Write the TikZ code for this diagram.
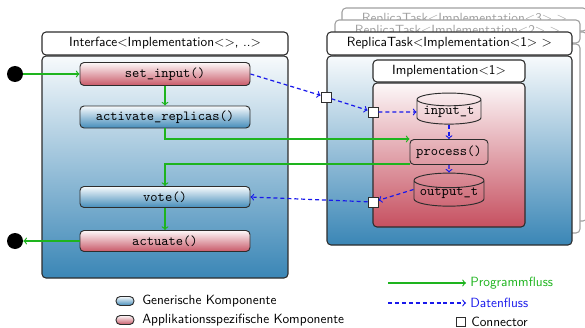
\documentclass[tikz,border=0pt]{standalone}
\usepackage{fontspec}
\usetikzlibrary{shapes.geometric}

\newdimen\pxu \pxu=0.75pt

\definecolor{frame}{RGB}{45,45,45}
\definecolor{genblue}{RGB}{58,134,182}
\definecolor{appred}{RGB}{198,80,96}
\definecolor{progc}{RGB}{30,180,30}
\definecolor{datac}{RGB}{25,25,235}
\definecolor{ghost}{RGB}{160,160,160}

\tikzset{
  hdr/.style={draw=frame, fill=white, rounded corners=3pt, line width=0.8pt,
    inner sep=0pt, font=\sffamily\fontsize{10}{12}\selectfont},
  genbody/.style={draw=frame, rounded corners=3pt, line width=0.8pt,
    top color=genblue!4, bottom color=genblue},
  appbody/.style={draw=frame, rounded corners=3pt, line width=0.8pt,
    top color=appred!4, bottom color=appred},
  ghosthdr/.style={hdr, draw=ghost, text=ghost},
  ghostbody/.style={draw=ghost, fill=white, rounded corners=3pt, line width=0.8pt},
  fnbox/.style={draw=frame, rounded corners=3pt, line width=0.7pt, inner sep=0pt,
    minimum width=170*\pxu, font=\ttfamily\fontsize{10.4}{12}\selectfont},
  genfn/.style={fnbox, top color=genblue!4, bottom color=genblue!95},
  appfn/.style={fnbox, top color=appred!4, bottom color=appred!95},
  plainfn/.style={draw=frame, rounded corners=3pt, line width=0.7pt, inner sep=0pt,
    font=\ttfamily\fontsize{10.4}{12}\selectfont},
  store/.style={cylinder, shape border rotate=90, draw=frame, line width=0.7pt,
    aspect=0.25, inner sep=0pt, font=\ttfamily\fontsize{10.4}{12}\selectfont},
  conn/.style={draw=frame, fill=white, line width=0.7pt, inner sep=0pt,
    minimum size=10*\pxu},
  port/.style={circle, fill=black, inner sep=0pt, minimum size=16*\pxu},
  prog/.style={draw=progc, line width=0.9pt, ->},
  data/.style={draw=datac, line width=0.9pt, dash pattern=on 3pt off 2.2pt, ->},
  legtext/.style={anchor=west, inner sep=0pt, font=\sffamily\fontsize{10}{12}\selectfont},
}

\begin{document}
\begin{tikzpicture}[x=0.75pt, y=-0.75pt]
\useasboundingbox (0,0) rectangle (585,328);

% ---- stacked replica tasks behind the first one ----
\node[ghostbody, minimum width=245*\pxu, minimum height=189*\pxu] (r3body) at (464.5,126.5) {};
\node[ghosthdr, minimum width=245*\pxu, minimum height=23*\pxu] (r3hdr) at (464.5,19.5)
  {ReplicaTask<Implementation<3> >};
\node[ghostbody, minimum width=245*\pxu, minimum height=189*\pxu] (r2body) at (457.5,138.5) {};
\node[ghosthdr, minimum width=245*\pxu, minimum height=23*\pxu] (r2hdr) at (457.5,31.5)
  {ReplicaTask<Implementation<2> >};

% ---- interface component ----
\node[hdr, minimum width=246*\pxu, minimum height=23*\pxu] (ifhdr) at (165,43.5)
  {Interface<Implementation<>, ..>};
\node[genbody, minimum width=246*\pxu, minimum height=222*\pxu] (ifbody) at (165,167) {};

\node[appfn, minimum height=23*\pxu] (setinput) at (165,74) {set\_input()};
\node[genfn, minimum height=22*\pxu] (activate) at (165,117) {activate\_replicas()};
\node[genfn, minimum height=21*\pxu] (vote) at (165,197) {vote()};
\node[appfn, minimum height=21*\pxu] (actuate) at (165,241) {actuate()};

\node[port] (inport) at (15,74) {};
\node[port] (outport) at (15,241) {};

% ---- replica task 1 ----
\node[hdr, minimum width=245*\pxu, minimum height=23*\pxu] (rthdr) at (449.5,43.5)
  {ReplicaTask<Implementation<1> >};
\node[genbody, minimum width=245*\pxu, minimum height=189*\pxu] (rtbody) at (449.5,150.5) {};

\node[hdr, minimum width=152*\pxu, minimum height=22*\pxu] (imhdr) at (449,71)
  {Implementation<1>};
\node[appbody, minimum width=152*\pxu, minimum height=144*\pxu] (imbody) at (449,155) {};

\node[store, minimum width=64*\pxu, minimum height=30*\pxu] (inputt) at (449,112) {input\_t};
\node[plainfn, minimum width=78*\pxu, minimum height=25*\pxu] (process) at (449,152) {process()};
\node[store, minimum width=70*\pxu, minimum height=33*\pxu] (outputt) at (449,193.5) {output\_t};

\node[conn] (c1) at (326,97) {};
\node[conn] (c2) at (373,112) {};
\node[conn] (c3) at (373,202) {};

% ---- program flow ----
\draw[prog] (inport) -- (setinput.west);
\draw[prog] (setinput.south) -- (activate.north);
\draw[prog] (activate.south) |- ([yshift=9.75pt]process.west);
\draw[prog] ([yshift=-9pt]process.west) -| (vote.north);
\draw[prog] (vote.south) -- (actuate.north);
\draw[prog] (actuate.west) -- (outport);

% ---- data flow ----
\draw[data] (setinput.east) -- (c1);
\draw[data] (c1) -- (c2);
\draw[data] (c2) -- (inputt.west);
\draw[data] (inputt.south) -- (process.north);
\draw[data] (process.south) -- (outputt.north);
\draw[data] ([yshift=3pt]outputt.west) -- (c3);
\draw[data] (c3) -- (vote.east);

% ---- legend ----
\node[genfn, minimum width=18*\pxu, minimum height=9*\pxu, rounded corners=3.2pt] (lgen) at (125,301) {};
\node[legtext] (lgentext) at (142,301) {Generische Komponente};
\node[appfn, minimum width=18*\pxu, minimum height=9*\pxu, rounded corners=3.2pt] (lapp) at (125,320) {};
\node[legtext] (lapptext) at (142,320) {Applikationsspezifische Komponente};

\coordinate (lp1) at (388,283);
\coordinate (lp2) at (466,283);
\draw[prog] (lp1) -- (lp2);
\node[legtext, text=progc] (lprog) at (470,283) {Programmfluss};
\coordinate (ld1) at (388,303);
\coordinate (ld2) at (466,303);
\draw[data] (ld1) -- (ld2);
\node[legtext, text=datac] (ldata) at (470,303) {Datenfluss};
\node[conn, minimum size=9*\pxu] (lconn) at (461,322) {};
\node[legtext] (lconntext) at (471,322) {Connector};
\end{tikzpicture}
\end{document}
